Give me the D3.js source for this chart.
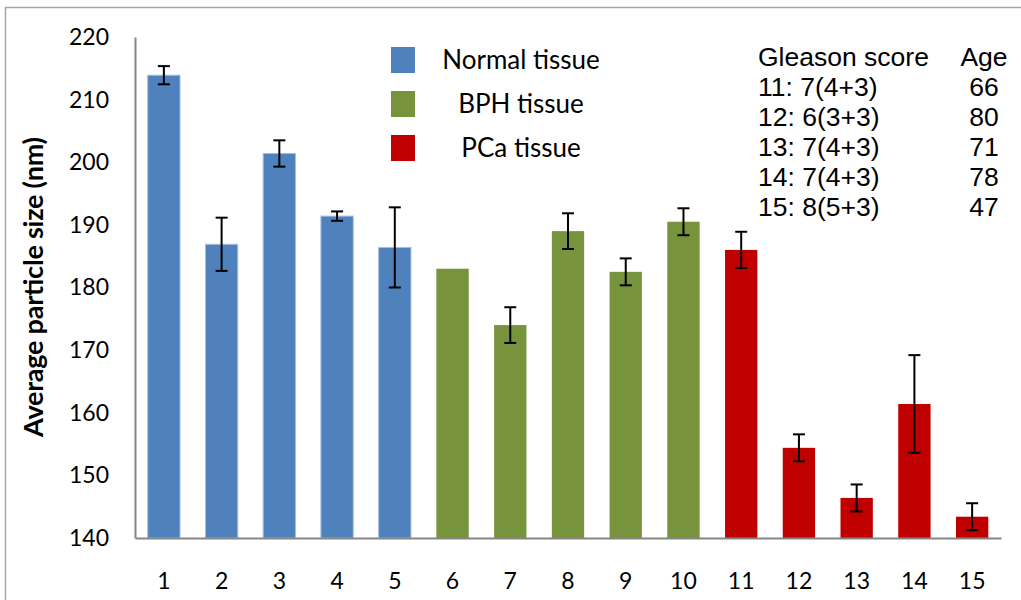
<!DOCTYPE html>
<html>
<head>
<meta charset="utf-8">
<script src="https://cdn.jsdelivr.net/npm/d3@7"></script>
<style>
  body { margin: 0; background: #fff; }
  svg { display: block; }
</style>
</head>
<body>
<div id="chart"></div>
<script>
var svgWidth = 1021;
var svgHeight = 600;

// data
var samples = ["1","2","3","4","5","6","7","8","9","10","11","12","13","14","15"];
var tissue = ["Normal","Normal","Normal","Normal","Normal","BPH","BPH","BPH","BPH","BPH","PCa","PCa","PCa","PCa","PCa"];
var sizes = [213.9, 186.9, 201.4, 191.4, 186.4, 183.0, 174.0, 189.0, 182.5, 190.5, 186.0, 154.4, 146.4, 161.4, 143.4];
var errors = [1.45, 4.25, 2.1, 0.75, 6.4, 0, 2.85, 2.85, 2.15, 2.15, 2.9, 2.15, 2.15, 7.8, 2.15];
var yTicks = [140, 150, 160, 170, 180, 190, 200, 210, 220];

var legendLabels = ["Normal tissue", "BPH tissue", "PCa tissue"];
var legendKeys = ["Normal", "BPH", "PCa"];
var colors = { Normal: "#4f81bd", BPH: "#77933c", PCa: "#c00000" };

var gleasonHeader = ["Gleason score", "Age"];
var gleason = ["11: 7(4+3)", "12: 6(3+3)", "13: 7(4+3)", "14: 7(4+3)", "15: 8(5+3)"];
var ages = ["66", "80", "71", "78", "47"];

var plot = { left: 135, right: 1001, top: 37, bottom: 538 };

var svg = d3.select("#chart")
  .append("svg")
  .attr("width", svgWidth)
  .attr("height", svgHeight);

// chart border
svg.append("rect")
  .attr("x", 5.5).attr("y", 7.5)
  .attr("width", 1040).attr("height", 620)
  .attr("fill", "none")
  .attr("stroke", "#a6a6a6")
  .attr("stroke-width", 1.5);

var x = d3.scaleBand()
  .domain(samples)
  .range([plot.left, plot.right])
  .paddingInner(0.44)
  .paddingOuter(0.22);

var y = d3.scaleLinear()
  .domain([140, 220])
  .range([plot.bottom, plot.top]);

var rows = samples.map(function(s, i) {
  return { s: s, t: tissue[i], v: sizes[i], e: errors[i] };
});

// bars
svg.selectAll("rect.bar")
  .data(rows)
  .enter()
  .append("rect")
  .attr("class", "bar")
  .attr("x", d => x(d.s))
  .attr("y", d => y(d.v))
  .attr("width", x.bandwidth())
  .attr("height", d => y(140) - y(d.v))
  .attr("fill", d => colors[d.t])
  .attr("stroke", d => d.t == "Normal" ? "#a7bfdf" : "none")
  .attr("stroke-width", 1);

// error bars
var errs = svg.append("g")
  .selectAll("g")
  .data(rows.filter(d => d.e > 0))
  .enter()
  .append("g")
  .attr("stroke", "#000")
  .attr("stroke-width", 2);
errs.append("line")
  .attr("x1", d => x(d.s) + x.bandwidth() / 2)
  .attr("x2", d => x(d.s) + x.bandwidth() / 2)
  .attr("y1", d => y(d.v + d.e))
  .attr("y2", d => y(d.v - d.e));
[1, -1].forEach(function(sign) {
  errs.append("line")
    .attr("x1", d => x(d.s) + x.bandwidth() / 2 - 6)
    .attr("x2", d => x(d.s) + x.bandwidth() / 2 + 6)
    .attr("y1", d => y(d.v + sign * d.e))
    .attr("y2", d => y(d.v + sign * d.e));
});

// axes
var leftAxis = d3.axisLeft(y).tickValues(yTicks).tickSize(0).tickPadding(26);
var bottomAxis = d3.axisBottom(x).tickSize(0).tickPadding(35);

var gy = svg.append("g")
  .attr("transform", `translate(${plot.left}, 0)`)
  .call(leftAxis);
var gx = svg.append("g")
  .attr("transform", `translate(0, ${plot.bottom})`)
  .call(bottomAxis);

[gx, gy].forEach(function(g) {
  g.select(".domain").attr("stroke", "#868686").attr("stroke-width", 2);
  g.selectAll("text")
    .attr("fill", "#000")
    .style("font-family", "Lato, 'Open Sans', sans-serif")
    .style("font-size", "23px");
});

svg.append("text")
  .attr("transform", "rotate(-90)")
  .attr("x", -287)
  .attr("y", 43)
  .attr("text-anchor", "middle")
  .style("font-family", "Lato, 'Open Sans', sans-serif")
  .style("font-weight", "bold")
  .style("font-size", "27px")
  .attr("textLength", 300)
  .attr("lengthAdjust", "spacing")
  .text("Average particle size (nm)");

// legend
var legend = svg.append("g")
  .selectAll("g")
  .data(legendLabels)
  .enter()
  .append("g")
  .attr("transform", (d, i) => `translate(0, ${i * 44})`);
legend.append("rect")
  .attr("x", 391)
  .attr("y", 47)
  .attr("width", 24)
  .attr("height", 26)
  .attr("fill", (d, i) => colors[legendKeys[i]]);
legend.append("text")
  .attr("x", 521)
  .attr("y", 60)
  .attr("dy", "0.35em")
  .attr("text-anchor", "middle")
  .style("font-family", "Lato, 'Open Sans', sans-serif")
  .style("font-size", "26px")
  .text(d => d);

// Gleason score table
var table = svg.append("g")
  .style("font-family", "'Liberation Sans', Arial, sans-serif")
  .style("font-size", "26.5px");
table.append("text")
  .attr("x", 758).attr("y", 57).attr("dy", "0.35em")
  .text(gleasonHeader[0]);
table.append("text")
  .attr("x", 984).attr("y", 57).attr("dy", "0.35em")
  .attr("text-anchor", "middle")
  .text(gleasonHeader[1]);
table.selectAll("text.score")
  .data(gleason)
  .enter()
  .append("text")
  .attr("class", "score")
  .attr("x", 758)
  .attr("y", (d, i) => 87 + i * 30)
  .attr("dy", "0.35em")
  .text(d => d);
table.selectAll("text.age")
  .data(ages)
  .enter()
  .append("text")
  .attr("class", "age")
  .attr("x", 984)
  .attr("y", (d, i) => 87 + i * 30)
  .attr("dy", "0.35em")
  .attr("text-anchor", "middle")
  .text(d => d);
</script>
</body>
</html>
